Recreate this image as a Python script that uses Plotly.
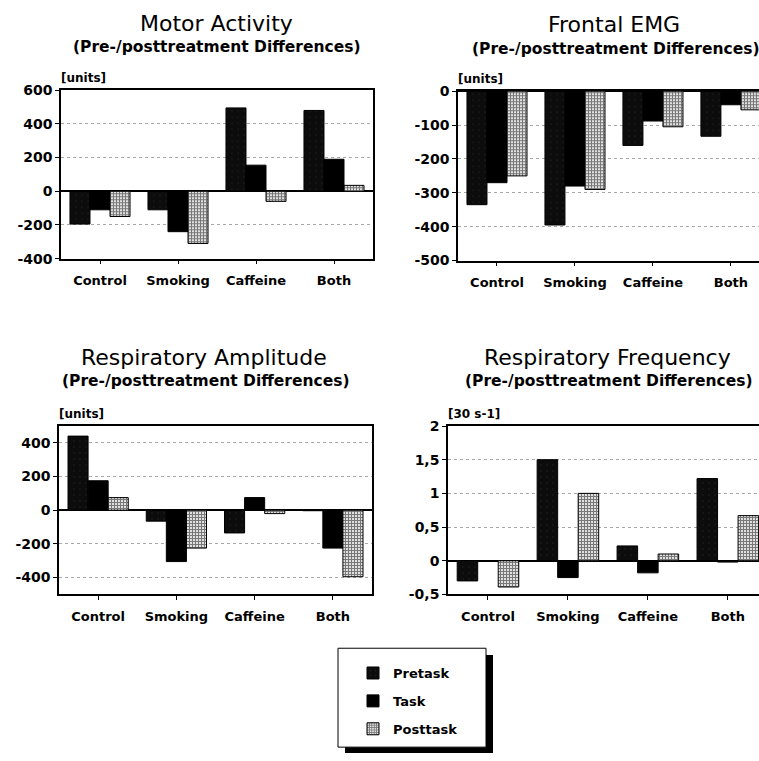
import plotly.graph_objects as go

W, H = 759, 761

categories = ["Control", "Smoking", "Caffeine", "Both"]
series_names = ["Pretask", "Task", "Posttask"]

motor_pre = [-195, -110, 495, 480]
motor_task = [-110, -240, 155, 190]
motor_post = [-150, -310, -60, 35]

emg_pre = [-335, -395, -160, -133]
emg_task = [-270, -280, -88, -40]
emg_post = [-250, -290, -105, -55]

amp_pre = [440, -65, -135, -3]
amp_task = [175, -305, 75, -225]
amp_post = [75, -225, -20, -395]

freq_pre = [-0.3, 1.5, 0.22, 1.22]
freq_task = [0.0, -0.25, -0.18, -0.02]
freq_post = [-0.39, 1.0, 0.1, 0.67]

motor_ticks = [-400, -200, 0, 200, 400, 600]
motor_ticktext = ["-400", "-200", "0", "200", "400", "600"]
emg_ticks = [-500, -400, -300, -200, -100, 0]
emg_ticktext = ["-500", "-400", "-300", "-200", "-100", "0"]
amp_ticks = [-400, -200, 0, 200, 400]
amp_ticktext = ["-400", "-200", "0", "200", "400"]
freq_ticks = [-0.5, 0, 0.5, 1, 1.5, 2]
freq_ticktext = ["-0,5", "0", "0,5", "1", "1,5", "2"]

titles = ["Motor Activity", "Frontal EMG", "Respiratory Amplitude", "Respiratory Frequency"]
subtitle = "(Pre-/posttreatment Differences)"
unit_labels = ["[units]", "[units]", "[units]", "[30 s-1]"]

FONT = "DejaVu Sans"

def px_x(p):
    return p / W

def px_y(p):
    return 1 - p / H

panels = [
    dict(data=[motor_pre, motor_task, motor_post], xdom=(61, 373), ydom=(84, 256),
         yrange=[-400, 600], ticks=motor_ticks, ticktext=motor_ticktext, xrange=[-0.5, 3.5],
         right_open=False, title_x=216, title_y=16, sub_y=40),
    dict(data=[emg_pre, emg_task, emg_post], xdom=(458, 759), ydom=(85, 258),
         yrange=[-500, 0], ticks=emg_ticks, ticktext=emg_ticktext, xrange=[-0.5, 3.36],
         right_open=True, title_x=614, title_y=17, sub_y=42),
    dict(data=[amp_pre, amp_task, amp_post], xdom=(59, 372), ydom=(427, 599),
         yrange=[-500, 500], ticks=amp_ticks, ticktext=amp_ticktext, xrange=[-0.5, 3.5],
         right_open=False, title_x=204, title_y=357, sub_y=381),
    dict(data=[freq_pre, freq_task, freq_post], xdom=(448, 759), ydom=(427, 599),
         yrange=[-0.5, 2], ticks=freq_ticks, ticktext=freq_ticktext, xrange=[-0.5, 3.39],
         right_open=True, title_x=607, title_y=357, sub_y=381),
]

styles = [
    dict(marker=dict(color="#0c0c0c", line=dict(color="black", width=1),
                     pattern=dict(shape=".", fgcolor="#353535", size=6, solidity=0.06))),
    dict(marker=dict(color="black", line=dict(color="black", width=1))),
    dict(marker=dict(color="white", line=dict(color="black", width=1),
                     pattern=dict(shape="+", fgcolor="black", bgcolor="#eeeeee", size=3, solidity=0.65))),
]

fig = go.Figure()
annotations = []
layout_axes = {}

for i, p in enumerate(panels):
    n = "" if i == 0 else str(i + 1)
    xa, ya = "x" + n, "y" + n
    for s, (name, vals) in enumerate(zip(series_names, p["data"])):
        fig.add_trace(go.Bar(
            x=categories, y=vals, name=name, xaxis=xa, yaxis=ya,
            legendgroup=name, showlegend=(i == 0), **styles[s]))
    layout_axes["xaxis" + n] = dict(
        domain=[px_x(p["xdom"][0]), px_x(p["xdom"][1])], anchor=ya,
        range=p["xrange"], showline=True, linecolor="black", linewidth=1.5, mirror=True,
        ticks="outside", ticklen=4, tickcolor="black", showgrid=False,
        tickfont=dict(family=FONT, size=13, color="black", weight="bold"),
        ticklabelstandoff=5, fixedrange=True)
    layout_axes["yaxis" + n] = dict(
        domain=[px_y(p["ydom"][1]), px_y(p["ydom"][0])], anchor=xa,
        range=p["yrange"], tickvals=p["ticks"], ticktext=p["ticktext"],
        showline=True, linecolor="black", linewidth=1.5, mirror=not p["right_open"],
        ticks="outside", ticklen=4, tickcolor="black",
        showgrid=True, gridcolor="#a8a8a8", griddash="dot", gridwidth=1,
        zeroline=True, zerolinecolor="black", zerolinewidth=1.5,
        tickfont=dict(family=FONT, size=14, color="black", weight="bold"), fixedrange=True)
    annotations.append(dict(text=titles[i], x=px_x(p["title_x"]), y=px_y(p["title_y"]),
                            xref="paper", yref="paper", showarrow=False,
                            xanchor="center", yanchor="middle",
                            font=dict(family=FONT, size=22, color="black")))
    annotations.append(dict(text=subtitle, x=px_x(p["title_x"] + 1), y=px_y(p["sub_y"]),
                            xref="paper", yref="paper", showarrow=False,
                            xanchor="center", yanchor="middle",
                            font=dict(family=FONT, size=15.5, color="black", weight="bold")))
    annotations.append(dict(text=unit_labels[i], x=px_x(p["xdom"][0] - 2), y=px_y(p["ydom"][0] - 3),
                            xref="paper", yref="paper", showarrow=False,
                            xanchor="left", yanchor="bottom",
                            font=dict(family=FONT, size=12, color="black", weight="bold")))

# legend frame with drop shadow
lx0, ly0, lx1, ly1 = 338, 654, 486, 755
shapes = [
    dict(type="rect", xref="paper", yref="paper", x0=px_x(lx0 + 7), x1=px_x(lx1 + 7),
         y0=px_y(ly1 + 6), y1=px_y(ly0 + 7), fillcolor="black", line=dict(width=0)),
    dict(type="rect", xref="paper", yref="paper", x0=px_x(lx0), x1=px_x(lx1),
         y0=px_y(ly1), y1=px_y(ly0), fillcolor="white", line=dict(color="black", width=1)),
]

fig.update_layout(
    width=W, height=H, margin=dict(l=0, r=0, t=0, b=0),
    paper_bgcolor="white", plot_bgcolor="white",
    barmode="group", bargap=0.23, bargroupgap=0,
    annotations=annotations, shapes=shapes,
    legend=dict(x=px_x(353), y=px_y(664), xanchor="left", yanchor="top",
                bgcolor="rgba(0,0,0,0)", borderwidth=0, traceorder="grouped",
                tracegroupgap=8, itemwidth=30,
                font=dict(family=FONT, size=13, color="black", weight="bold")),
    **layout_axes,
)

fig.write_html("out.html")
